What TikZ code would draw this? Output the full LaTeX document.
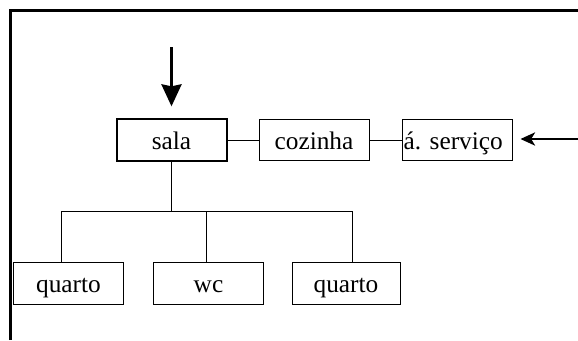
\documentclass[tikz,border=0pt]{standalone}
\usepackage{fontspec}
\setmainfont{Liberation Serif}
\usetikzlibrary{arrows.meta}
\begin{document}
\frenchspacing
\begin{tikzpicture}[x=0.75pt, y=-0.75pt,
	room/.style={shape=rectangle, draw=black, line width=0.75pt, minimum width=82.5pt, minimum height=31pt, inner sep=0pt, text height=15pt, text depth=1.5pt, font=\fontsize{19}{22}\selectfont},
	link/.style={draw=black, line width=0.75pt}]
		\useasboundingbox (0,0) rectangle (578,340);
		% moldura
		\draw[line width=2.3pt] (10.5,340) -- (10.5,10.5) -- (578,10.5);
		% comodos
		\node (sala) at (171.5,140) [room, line width=1.5pt] {sala};
		\node (cozinha) at (314,140) [room] {cozinha};
		\node (servico) at (457,140) [room, text width=80pt, align=left, inner xsep=0.5pt] {á. serviço};
		\node (quarto1) at (68.5,283.5) [room, minimum width=83pt] {quarto};
		\node (wc) at (208.5,283.5) [room, minimum width=82pt] {wc};
		\node (quarto2) at (346,283.5) [room, minimum width=81pt] {quarto};
		% ligacoes
		\coordinate (barra) at (171.5,211);
		\draw[link] (sala) -- (cozinha);
		\draw[link] (cozinha) -- (servico);
		\draw[link] (sala.south) -- (barra);
		\draw[link] (61,211) -- (352,211);
		\draw[link] (61,211) -- (61,211 |- quarto1.north);
		\draw[link] (206,211) -- (206,211 |- wc.north);
		\draw[link] (352,211) -- (352,211 |- quarto2.north);
		% entradas
		\coordinate (entrada1) at (171.5,47);
		\coordinate (entrada2) at (578,139);
		\draw[line width=2.2pt, -{Stealth[length=16.5pt, width=15pt, inset=1.5pt]}] (entrada1) -- ([yshift=9pt]sala.north);
		\draw[line width=0.9pt, -{Stealth[length=11pt, width=10pt, inset=3pt]}] (entrada2) -- ([xshift=6pt]servico.east |- entrada2);
\end{tikzpicture}
\end{document}
